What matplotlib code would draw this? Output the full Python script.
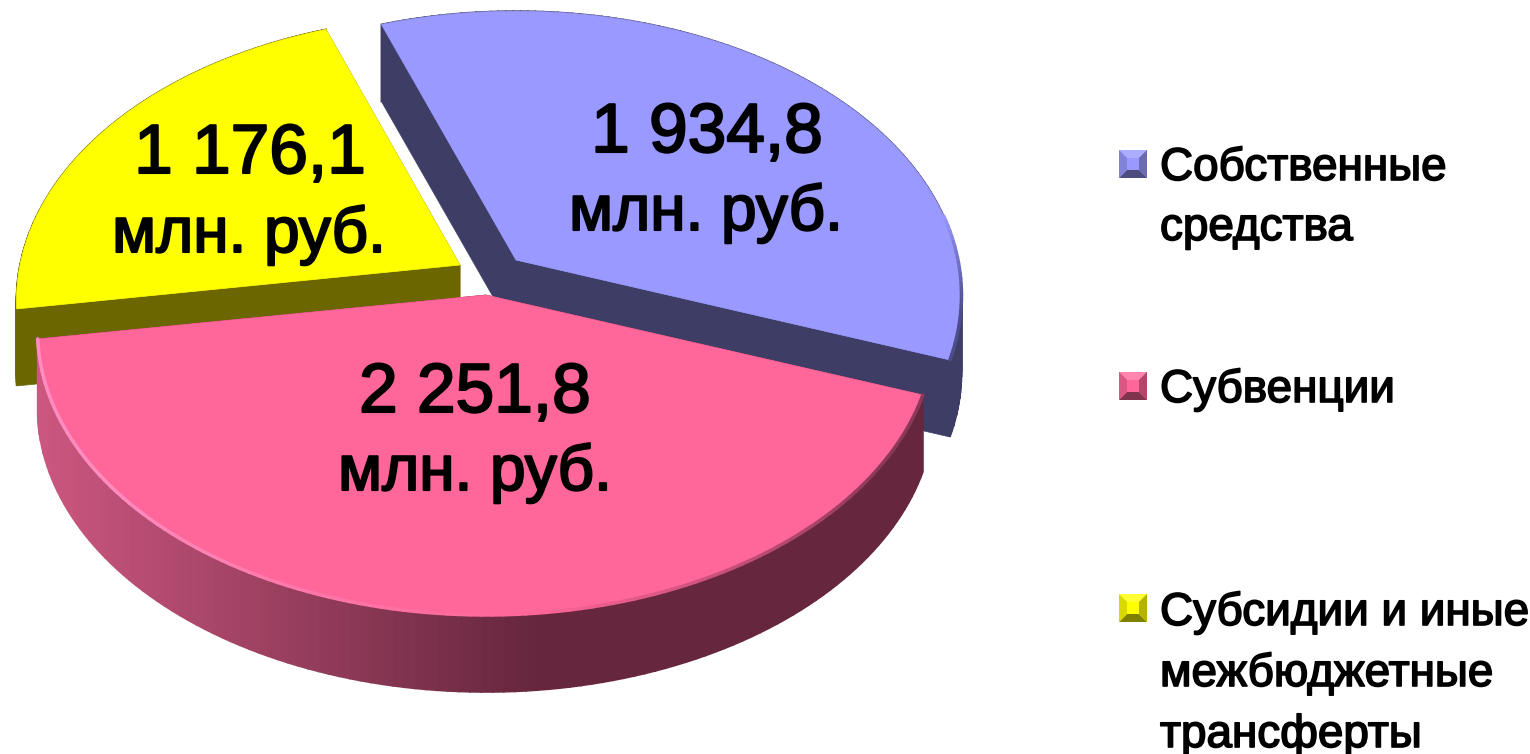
import numpy as np
import matplotlib
matplotlib.use('Agg')
import matplotlib.pyplot as plt
from matplotlib.patches import Polygon, Rectangle
import matplotlib.patheffects as pe

values = [1934.8, 2251.8, 1176.1]
value_labels = ['1 934,8', '2 251,8', '1 176,1']
unit_label = 'млн. руб.'
categories = [['Собственные', 'средства'], ['Субвенции'], ['Субсидии и иные', 'межбюджетные', 'трансферты']]
top_colors = ['#9999ff', '#ff6699', '#ffff00']
wall_colors = ['#3d3d66', '#66263d', '#6b6600']

START = 109.9
RY = 280
PERSP = 0.125
HEIGHT = 77
radius_x = [442, 445, 440]
apex = [(516, 260), (486, 295), (460, 265)]
number_pos = [(707, 152), (475, 412), (250, 173)]
unit_pos = [(706, 230), (475, 490), (249, 252)]
legend_base = [[180, 240], [402], [625, 686, 747]]
legend_box = [(1119, 150), (1119, 372), (1119, 594)]
LEGEND_X = 1160


def project(i, theta, r=1.0, z=0.0):
    # ground plane to screen, far side a bit smaller
    cx, cy = apex[i]
    x = r * np.cos(np.radians(theta))
    y = r * np.sin(np.radians(theta))
    w = 1 + PERSP * y
    return np.column_stack([cx + radius_x[i] * x / w, cy - RY * y / w + z])


def mix(c1, c2, t):
    return tuple((1 - t) * np.array(c1) + t * np.array(c2))


def pink_wall(t):
    left = (0.80, 0.34, 0.50)
    right = (0.40, 0.15, 0.24)
    return mix(left, right, min(t / 0.57, 1))


def rim_color(i, theta):
    # soft bevel on the top edge, only where the reference has one
    pink = (1.0, 0.40, 0.60)
    if i == 0 and theta < 10:
        return mix((0.6, 0.6, 1.0), (0.30, 0.30, 0.55), min((10 - theta) / 20, 1))
    if i == 1 and theta < -85:
        return mix((1.0, 0.55, 0.75), pink, np.clip((theta + 140) / 55, 0, 1))
    if i == 1:
        return mix(pink, (0.55, 0.22, 0.35), np.clip((theta + 85) / 50, 0, 1))
    return None


def draw_slice(ax, i, t1, t2):
    thetas = np.linspace(t1, t2, 121)
    arc_top = project(i, thetas)
    arc_bot = project(i, thetas, z=HEIGHT)
    centre = project(i, np.array([0.0]), r=0.0)
    centre_bot = project(i, np.array([0.0]), r=0.0, z=HEIGHT)

    # cut faces first, they sit behind the rim for these slices
    for j in (0, -1):
        quad = [centre[0], arc_top[j], arc_bot[j], centre_bot[0]]
        ax.add_patch(Polygon(quad, closed=True, fc=wall_colors[i], ec=wall_colors[i], lw=0.5))

    # outer rim, cut in strips so the pink one can shade across
    for k in range(len(thetas) - 1):
        quad = [arc_top[k], arc_top[k + 1], arc_bot[k + 1], arc_bot[k]]
        if i == 1:
            col = pink_wall(np.clip((arc_top[k][0] - 40) / 880, 0, 1))
        else:
            col = wall_colors[i]
        ax.add_patch(Polygon(quad, closed=True, fc=col, ec=col, lw=1.2))

    face = np.vstack([centre, arc_top])
    ax.add_patch(Polygon(face, closed=True, fc=top_colors[i], ec=top_colors[i], lw=0.5))
    for k in range(len(thetas) - 1):
        col = rim_color(i, thetas[k])
        if col is not None:
            ax.plot(arc_top[k:k + 2, 0], arc_top[k:k + 2, 1], color=col, lw=2.5,
                    solid_capstyle='round')


def legend_marker(ax, x, y, col):
    size = 28
    ax.add_patch(Rectangle((x, y), size, size, fc=col, ec='none'))
    b = 8
    base = np.array(matplotlib.colors.to_rgb(col))
    top = [(x, y), (x + size, y), (x + size - b, y + b), (x + b, y + b)]
    bot = [(x, y + size), (x + size, y + size), (x + size - b, y + size - b), (x + b, y + size - b)]
    lft = [(x, y), (x + b, y + b), (x + b, y + size - b), (x, y + size)]
    rgt = [(x + size, y), (x + size - b, y + b), (x + size - b, y + size - b), (x + size, y + size)]
    ax.add_patch(Polygon(top, fc=tuple(base * 0.8 + 0.2), ec='none'))
    ax.add_patch(Polygon(bot, fc=tuple(base * 0.5), ec='none'))
    ax.add_patch(Polygon(lft, fc=tuple(base * 0.85), ec='none'))
    ax.add_patch(Polygon(rgt, fc=tuple(base * 0.7), ec='none'))


fig = plt.figure(figsize=(15.3, 7.54), dpi=100)
ax = fig.add_axes([0, 0, 1, 1])
ax.set_xlim(0, 1530)
ax.set_ylim(754, 0)
ax.axis('off')

spans = 360 * np.array(values) / sum(values)
edges = START - np.concatenate([[0], np.cumsum(spans)])

# blue at the back, then yellow, pink goes over both
for i in (0, 2, 1):
    draw_slice(ax, i, edges[i], edges[i + 1])

font = ['Liberation Sans', 'DejaVu Sans']
stroke = [pe.withStroke(linewidth=1.5, foreground='black')]
for i, txt in enumerate(value_labels):
    ax.text(number_pos[i][0], number_pos[i][1], txt, ha='center', va='baseline',
            fontsize=50, family=font, color='black', path_effects=stroke)
    ax.text(unit_pos[i][0], unit_pos[i][1], unit_label, ha='center', va='baseline',
            fontsize=46, family=font, color='black', path_effects=stroke)

for i, lines in enumerate(categories):
    legend_marker(ax, legend_box[i][0], legend_box[i][1], top_colors[i])
    for line, base_y in zip(lines, legend_base[i]):
        ax.text(LEGEND_X, base_y, line, ha='left', va='baseline', fontsize=33,
                family=font, color='black',
                path_effects=[pe.withStroke(linewidth=1.2, foreground='black')])

fig.savefig('out.png', dpi=100, facecolor='white')
